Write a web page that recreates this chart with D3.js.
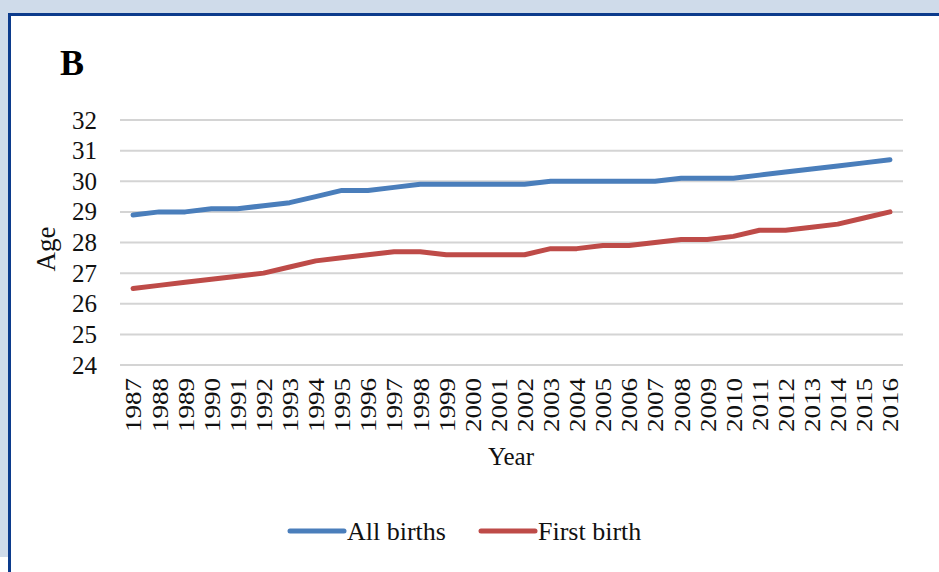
<!DOCTYPE html>
<html>
<head>
<meta charset="utf-8">
<script src="https://cdn.jsdelivr.net/npm/d3@7"></script>
<style>
  html, body { margin: 0; padding: 0; background: #fff; }
  svg { display: block; }
</style>
</head>
<body>
<svg id="chart" width="939" height="572"></svg>
<script>
// data
var years = [1987, 1988, 1989, 1990, 1991, 1992, 1993, 1994, 1995, 1996,
  1997, 1998, 1999, 2000, 2001, 2002, 2003, 2004, 2005, 2006,
  2007, 2008, 2009, 2010, 2011, 2012, 2013, 2014, 2015, 2016];
var allBirths = [28.9, 29.0, 29.0, 29.1, 29.1, 29.2, 29.3, 29.5, 29.7, 29.7,
  29.8, 29.9, 29.9, 29.9, 29.9, 29.9, 30.0, 30.0, 30.0, 30.0,
  30.0, 30.1, 30.1, 30.1, 30.2, 30.3, 30.4, 30.5, 30.6, 30.7];
var firstBirth = [26.5, 26.6, 26.7, 26.8, 26.9, 27.0, 27.2, 27.4, 27.5, 27.6,
  27.7, 27.7, 27.6, 27.6, 27.6, 27.6, 27.8, 27.8, 27.9, 27.9,
  28.0, 28.1, 28.1, 28.2, 28.4, 28.4, 28.5, 28.6, 28.8, 29.0];
var yTicks = [24, 25, 26, 27, 28, 29, 30, 31, 32];
var seriesNames = ['All births', 'First birth'];
var seriesColors = ['#4a7ebb', '#be4b48'];

var W = 939, H = 572;
var font = '"Liberation Serif", "Times New Roman", serif';
var svg = d3.select('#chart');

// page frame: light blue strip + dark blue panel border
svg.append('rect').attr('x', 0).attr('y', 0).attr('width', W).attr('height', 14)
  .attr('fill', '#cfdbea');
svg.append('rect').attr('x', 0).attr('y', 0).attr('width', 9).attr('height', 557)
  .attr('fill', '#cfdbea');
svg.append('line').attr('x1', 9.5).attr('x2', 9.5).attr('y1', 13).attr('y2', H)
  .attr('stroke', '#0c3b8c').attr('stroke-width', 3);
svg.append('line').attr('x1', 8).attr('x2', W).attr('y1', 14.5).attr('y2', 14.5)
  .attr('stroke', '#0c3b8c').attr('stroke-width', 3);

var plotLeft = 120, plotRight = 903, plotTop = 120, plotBottom = 365;

var x = d3.scalePoint().domain(years).range([plotLeft, plotRight]).padding(0.5);
var y = d3.scaleLinear().domain([24, 32]).range([plotBottom, plotTop]);

// gridlines
var grid = svg.append('g').attr('class', 'grid');
grid.selectAll('line').data(yTicks).enter().append('line')
  .attr('x1', plotLeft).attr('x2', plotRight)
  .attr('y1', function(d) { return y(d); })
  .attr('y2', function(d) { return y(d); })
  .attr('stroke', '#d4d4d4').attr('stroke-width', 2);

// y axis labels
var yAxis = d3.axisLeft(y).tickValues(yTicks).tickSize(0).tickPadding(23);
var gy = svg.append('g').attr('transform', 'translate(' + plotLeft + ',0)').call(yAxis);
gy.select('.domain').remove();
gy.selectAll('text').attr('font-family', font).attr('font-size', 25).attr('fill', '#111');

// x axis labels, rotated
var xAxis = d3.axisBottom(x).tickSize(0).tickPadding(0);
var gx = svg.append('g').attr('transform', 'translate(0,' + plotBottom + ')').call(xAxis);
gx.select('.domain').remove();
gx.selectAll('text')
  .attr('font-family', font).attr('font-size', 27).attr('fill', '#111')
  .attr('text-anchor', 'end')
  .attr('transform', 'rotate(-90) scale(1,0.84)')
  .attr('x', -13).attr('y', 0).attr('dy', '0.35em');

// lines
var line = d3.line()
  .x(function(d, i) { return x(years[i]); })
  .y(function(d) { return y(d); });

[allBirths, firstBirth].forEach(function(vals, k) {
  svg.append('path').datum(vals)
    .attr('d', line)
    .attr('fill', 'none')
    .attr('stroke', seriesColors[k])
    .attr('stroke-width', 5)
    .attr('stroke-linejoin', 'round')
    .attr('stroke-linecap', 'round');
});

// titles
svg.append('text').attr('x', 60).attr('y', 75).text('B')
  .attr('font-family', font).attr('font-size', 36).attr('font-weight', 'bold').attr('fill', '#000');
svg.append('text').attr('transform', 'translate(55,249) rotate(-90)')
  .attr('text-anchor', 'middle').text('Age')
  .attr('font-family', font).attr('font-size', 27).attr('fill', '#111');
svg.append('text').attr('x', 511).attr('y', 465).attr('text-anchor', 'middle').text('Year')
  .attr('font-family', font).attr('font-size', 25).attr('fill', '#111');

// legend
var legendX = [290, 481];
var leg = svg.append('g');
seriesNames.forEach(function(name, k) {
  var g = leg.append('g').attr('transform', 'translate(' + legendX[k] + ',531)');
  g.append('line').attr('x1', 0).attr('x2', 54).attr('y1', 0).attr('y2', 0)
    .attr('stroke', seriesColors[k]).attr('stroke-width', 5).attr('stroke-linecap', 'round');
  g.append('text').attr('x', 57).attr('y', 9).text(name)
    .attr('font-family', font).attr('font-size', 26).attr('fill', '#111');
});
</script>
</body>
</html>
